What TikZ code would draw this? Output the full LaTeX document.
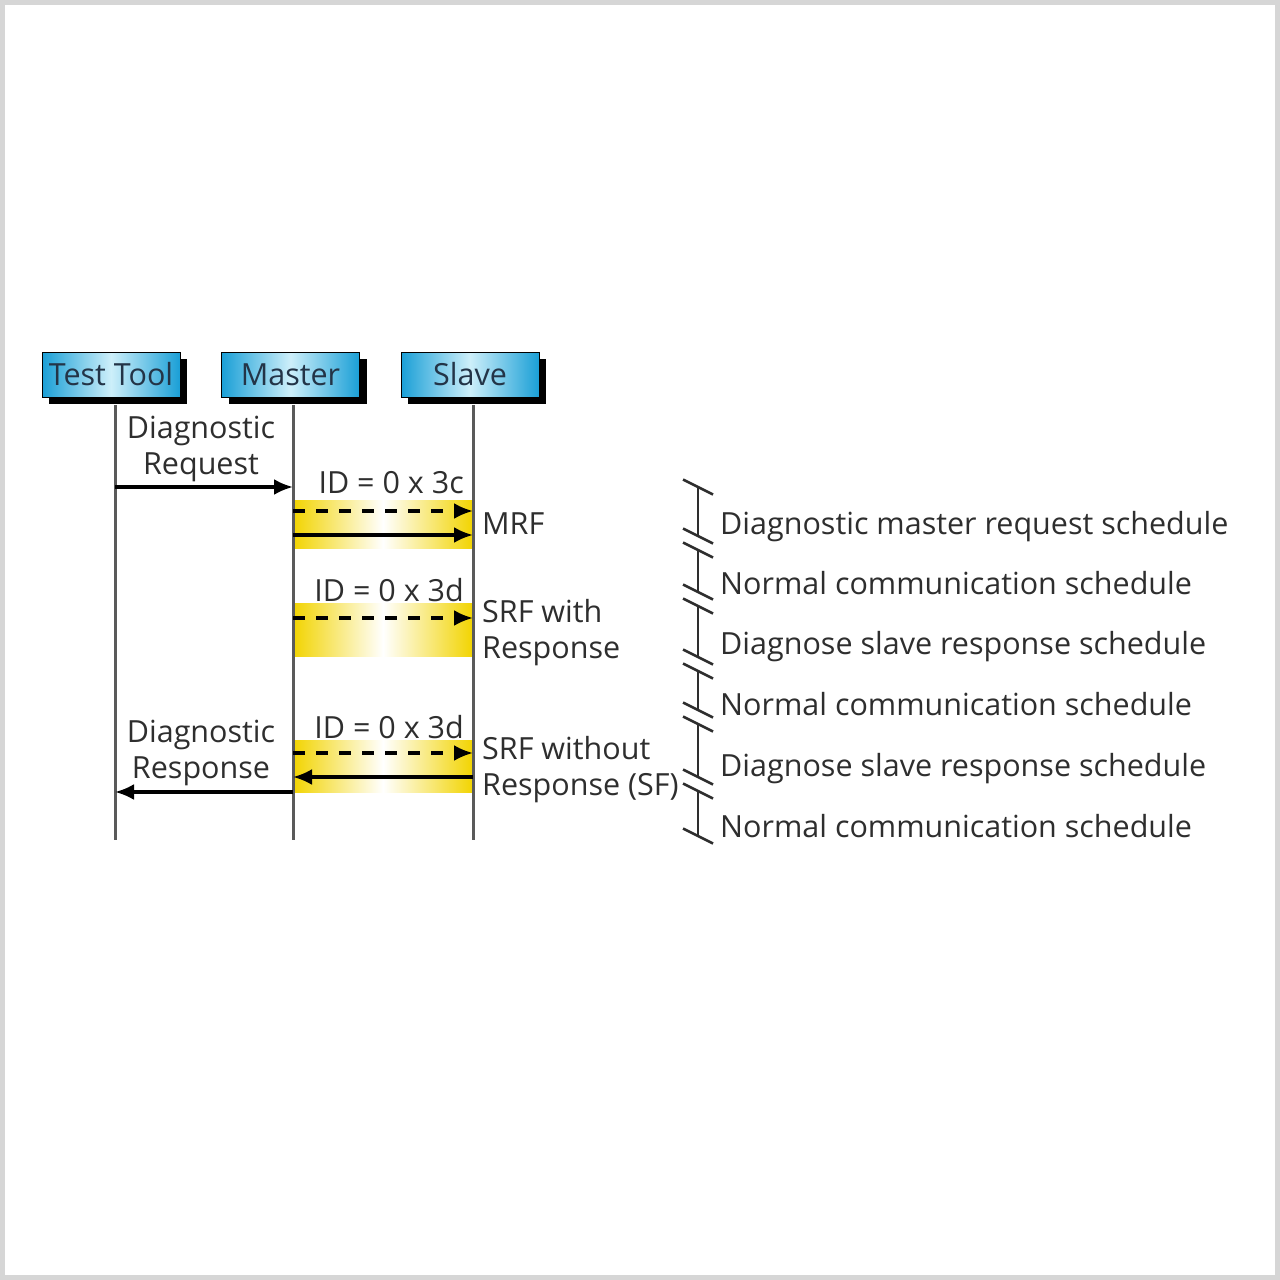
\documentclass[tikz,border=0pt]{standalone}
\usepackage{fontspec}
\setmainfont{Open Sans}
\usetikzlibrary{arrows.meta,shadows}
\definecolor{boxblue}{HTML}{1A9FD6}
\definecolor{boxlight}{HTML}{CDEFFA}
\definecolor{bandyellow}{HTML}{F2D400}
\definecolor{lifegray}{HTML}{5A5A5A}
\definecolor{txtgray}{HTML}{2E2E2E}
\definecolor{txtblue}{HTML}{233447}
\definecolor{framegray}{HTML}{D6D6D6}

\begin{document}
\begin{tikzpicture}[x=1pt,y=-1pt,
  every node/.style={font=\fontsize{30.5}{36}\selectfont, text=txtgray, inner sep=0pt},
  entity/.style={draw=black, line width=1pt, left color=boxblue, right color=boxblue,
    middle color=boxlight, minimum width=138pt, minimum height=45pt, text=txtblue,
    drop shadow={shadow xshift=7pt, shadow yshift=-7pt, fill=black, opacity=1}},
  life/.style={line width=3pt, color=lifegray},
  msg/.style={line width=3.2pt, -{Latex[length=19pt,width=16pt]}},
  dmsg/.style={msg, dash pattern=on 12pt off 11pt},
  band/.style={left color=bandyellow, right color=bandyellow, middle color=white},
  brk/.style={line width=2.5pt, color=txtgray}]
  \useasboundingbox (0,0) rectangle (1280,1280);
  \draw[line width=5pt, framegray] (2.5,2.5) rectangle (1277.5,1277.5);

  % header boxes
  \node[entity] (tool) at (111,374.5) {Test Tool};
  \node[entity] (master) at (290.5,374.5) {Master};
  \node[entity] (slave) at (470,374.5) {Slave};

  % yellow frame bands
  \shade[band] (293,500) rectangle (473,548);
  \shade[band] (293,603) rectangle (473,656);
  \shade[band] (293,740) rectangle (473,792);

  % lifelines
  \coordinate (toolTop) at (115,405);   \coordinate (toolEnd) at (115,840);
  \coordinate (masterTop) at (293,405); \coordinate (masterEnd) at (293,840);
  \coordinate (slaveTop) at (473,405);  \coordinate (slaveEnd) at (473,840);
  \draw[life] (toolTop) -- (toolEnd);
  \draw[life] (masterTop) -- (masterEnd);
  \draw[life] (slaveTop) -- (slaveEnd);

  % messages
  \coordinate (reqT) at (115,487); \coordinate (reqM) at (293,487);
  \coordinate (mrfA) at (293,511); \coordinate (mrfB) at (473,511);
  \coordinate (mrfC) at (293,535); \coordinate (mrfD) at (473,535);
  \coordinate (srfA) at (293,618); \coordinate (srfB) at (473,618);
  \coordinate (sfA) at (293,753);  \coordinate (sfB) at (473,753);
  \coordinate (sfC) at (473,777);  \coordinate (sfD) at (293,777);
  \coordinate (resM) at (293,792); \coordinate (resT) at (115,792);
  \draw[msg] (reqT) -- (reqM);
  \draw[dmsg] (mrfA) -- (mrfB);
  \draw[msg] (mrfC) -- (mrfD);
  \draw[dmsg] (srfA) -- (srfB);
  \draw[dmsg] (sfA) -- (sfB);
  \draw[msg] (sfC) -- (sfD);
  \draw[msg] (resM) -- (resT);

  % labels
  \node[align=center] (req) at (201,449) {Diagnostic\\Request};
  \node[align=center] (res) at (201,753) {Diagnostic\\Response};
  \node[anchor=east] (id1) at (464,483) {ID = 0 x 3c};
  \node[anchor=east] (id2) at (464,590) {ID = 0 x 3d};
  \node[anchor=east] (id3) at (464,727) {ID = 0 x 3d};
  \node[anchor=west] (mrf) at (482,524) {MRF};
  \node[anchor=west, align=left] (srf) at (482,633) {SRF with\\Response};
  \node[anchor=west, align=left] (sf) at (482,770) {SRF without\\Response (SF)};

  % schedule bracket
  \foreach \a/\b in {487/536, 550/592, 606/657, 671/710, 724/777, 791/836}
    \draw[brk] (698,\a) -- (698,\b);
  \foreach \y in {487,536,550,592,606,657,671,710,724,777,791,836}
    \draw[brk] (683,\y-7.5) -- (713,\y+7.5);
  \node[anchor=base west] (sch1) at (720,534) {Diagnostic master request schedule};
  \node[anchor=base west] (sch2) at (720,594) {Normal communication schedule};
  \node[anchor=base west] (sch3) at (720,654) {Diagnose slave response schedule};
  \node[anchor=base west] (sch4) at (720,715) {Normal communication schedule};
  \node[anchor=base west] (sch5) at (720,776) {Diagnose slave response schedule};
  \node[anchor=base west] (sch6) at (720,837) {Normal communication schedule};
\end{tikzpicture}
\end{document}
